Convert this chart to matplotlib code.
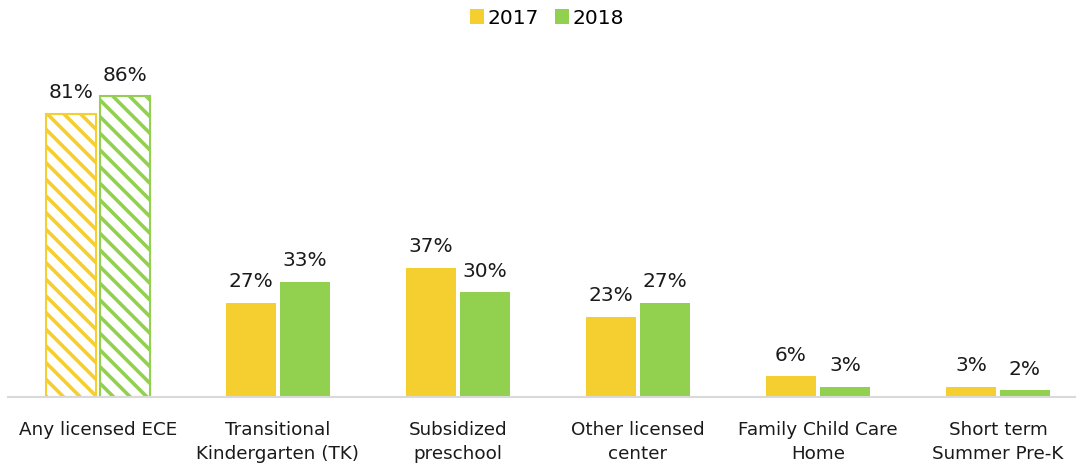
import matplotlib
matplotlib.use("Agg")
import matplotlib.pyplot as plt
import numpy as np
from matplotlib.patches import Patch

categories = ["Any licensed ECE", "Transitional\nKindergarten (TK)", "Subsidized\npreschool",
              "Other licensed\ncenter", "Family Child Care\nHome", "Short term\nSummer Pre-K"]
series_names = ["2017", "2018"]
values_2017 = [81, 27, 37, 23, 6, 3]
values_2018 = [86, 33, 30, 27, 3, 2]

colors = ["#F5CF30", "#92D050"]

plt.rcParams['font.family'] = ['DejaVu Sans']
plt.rcParams['hatch.linewidth'] = 2.6

fig = plt.figure(figsize=(10.76, 4.68), dpi=100)
ax = fig.add_axes([8/1076, (468-397)/468, 1068/1076, 350/468])

x = np.arange(len(categories))
w = 0.275
off = 0.15
for vals, sign, col in [(values_2017, -1, colors[0]), (values_2018, 1, colors[1])]:
    for i, v in enumerate(vals):
        if i == 0:
            ax.bar(x[i] + sign*off, v, width=w, facecolor="white", edgecolor=col,
                   hatch="\\\\", linewidth=1.5)
        else:
            ax.bar(x[i] + sign*off, v, width=w, color=col, linewidth=0)
        ax.annotate(f"{v}%", (x[i] + sign*off, v), xytext=(0, 8), textcoords="offset points",
                    ha="center", va="bottom", fontsize=14.5, color="#1a1a1a")

ax.set_xlim(-0.5, -0.5 + 1068/180)
ax.set_ylim(0, 100)
ax.set_xticks(x)
ax.set_xticklabels(categories, fontsize=13.2, color="#1a1a1a", linespacing=1.45)
ax.tick_params(axis="x", length=0, pad=17)
ax.set_yticks([])
for s in ["top", "right", "left"]:
    ax.spines[s].set_visible(False)
ax.spines["bottom"].set_color("#D9D9D9")
ax.spines["bottom"].set_linewidth(1.5)

handles = [Patch(facecolor=c, edgecolor="none") for c in colors]
fig.legend(handles, series_names, loc="center", bbox_to_anchor=(547/1076, 1 - 18/468), ncol=2,
           frameon=False, fontsize=14.5, handlelength=0.7, handleheight=0.7, handletextpad=0.15,
           columnspacing=0.8)

fig.savefig("out.png", dpi=100)
